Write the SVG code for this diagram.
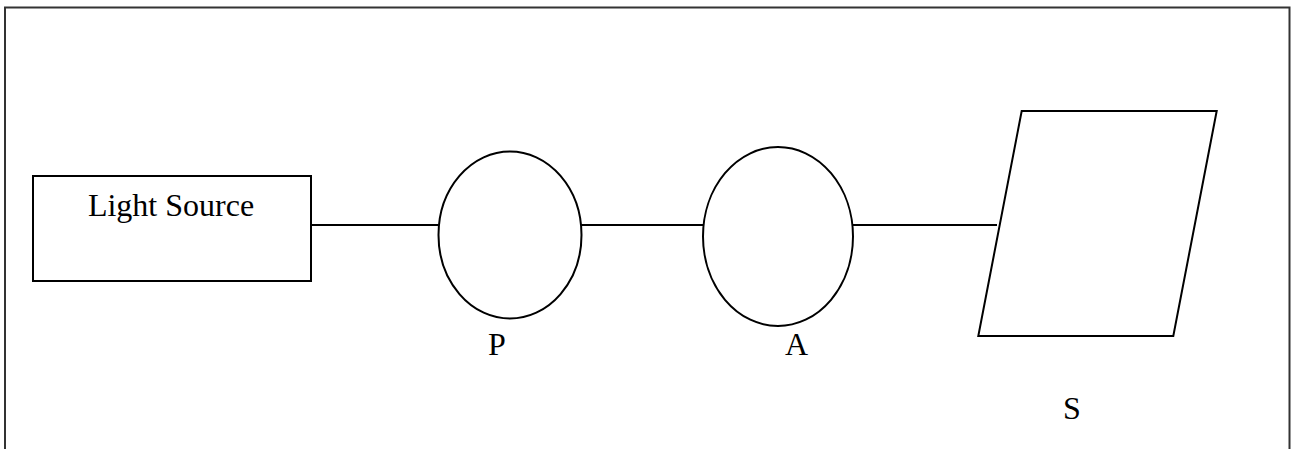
<svg xmlns="http://www.w3.org/2000/svg" width="1292" height="449" viewBox="0 0 1292 449">
<style>
.s{fill:none;stroke:#000;stroke-width:2}
.t{font-family:"Liberation Serif","Times New Roman",serif;font-size:32px;fill:#000}
</style>
<rect x="0" y="0" width="1292" height="449" fill="#fff"/>
<rect id="frame" x="5" y="7.5" width="1284.5" height="460" fill="none" stroke="#333" stroke-width="2"/>
<g id="connectors">
<line class="s" x1="311" y1="225" x2="438.5" y2="225"/>
<line class="s" x1="581" y1="225" x2="703" y2="225"/>
<line class="s" x1="853" y1="225" x2="997" y2="225"/>
</g>
<g id="light-source">
<rect class="s" x="33" y="176" width="278" height="105"/>
<text class="t" x="171" y="216" text-anchor="middle">Light Source</text>
</g>
<g id="P">
<ellipse class="s" cx="510" cy="235" rx="71.5" ry="83.5"/>
<text class="t" x="488" y="355">P</text>
</g>
<g id="A">
<ellipse class="s" cx="778" cy="236.5" rx="75" ry="89.5"/>
<text class="t" x="785" y="355">A</text>
</g>
<g id="S">
<polygon class="s" points="1021.7,111 1216.7,111 1173.3,336 978.3,336"/>
<text class="t" x="1063" y="419">S</text>
</g>
</svg>
